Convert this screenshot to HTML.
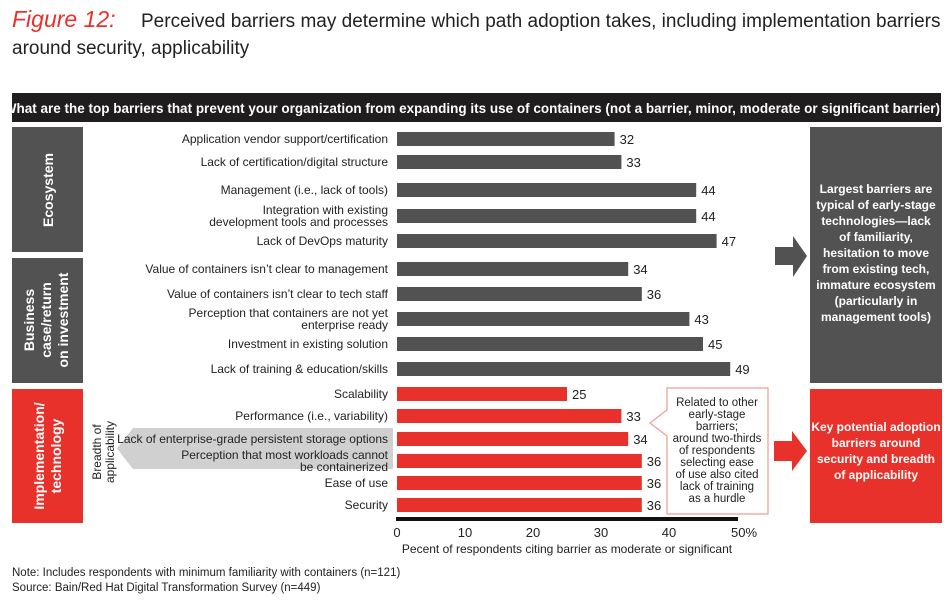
<!DOCTYPE html>
<html><head><meta charset="utf-8"><style>
body{margin:0;background:#fff;font-family:"Liberation Sans",sans-serif;}
svg text{font-family:"Liberation Sans",sans-serif;}
</style></head><body>
<svg id="chart" width="950" height="598" viewBox="0 0 950 598" xmlns="http://www.w3.org/2000/svg">
<text x="12" y="27" font-size="23" fill="#e8312a" font-style="italic" font-family="Liberation Serif,serif">Figure 12:</text>
<text x="141" y="27" font-size="19" fill="#222">Perceived barriers may determine which path adoption takes, including implementation barriers</text>
<text x="12" y="54" font-size="19" fill="#222">around security, applicability</text>
<rect x="12" y="93" width="929" height="29" fill="#1f1d1d"/>
<text x="476" y="113" font-size="13.5" font-weight="bold" fill="#fff" text-anchor="middle">What are the top barriers that prevent your organization from expanding its use of containers (not a barrier, minor, moderate or significant barrier)?</text>
<rect x="12" y="127" width="71" height="125" fill="#525252"/>
<text transform="translate(53,190) rotate(-90)" font-size="14" font-weight="bold" fill="#fff" text-anchor="middle">Ecosystem</text>
<rect x="12" y="258" width="71" height="125" fill="#525252"/>
<g transform="translate(48,320) rotate(-90)" font-size="14" font-weight="bold" fill="#fff" text-anchor="middle">
<text x="0" y="-14">Business</text><text x="0" y="3">case/return</text><text x="0" y="20">on investment</text></g>
<rect x="12" y="389" width="71" height="134" fill="#e8312a"/>
<g transform="translate(48,456) rotate(-90)" font-size="14" font-weight="bold" fill="#fff" text-anchor="middle">
<text x="0" y="-4">Implementation/</text><text x="0" y="13">technology</text></g>
<g transform="translate(103,452) rotate(-90)" font-size="12" fill="#222" text-anchor="middle">
<text x="0" y="-2">Breadth of</text><text x="0" y="11">applicability</text></g>
<polygon points="133,428 393,428 393,469 133,469 117,448.5" fill="#d0d0d0"/>
<g id="bars"></g>
<rect x="810" y="127" width="132" height="256" fill="#525252"/>
<g font-size="12" font-weight="bold" fill="#fff" text-anchor="middle">
<text x="876" y="193">Largest barriers are</text><text x="876" y="209">typical of early-stage</text><text x="876" y="225">technologies—lack</text><text x="876" y="241">of familiarity,</text><text x="876" y="257">hesitation to move</text><text x="876" y="273">from existing tech,</text><text x="876" y="289">immature ecosystem</text><text x="876" y="305">(particularly in</text><text x="876" y="321">management tools)</text></g>
<polygon points="775,247 793,247 793,236 807,256 793,277 793,265 775,265" fill="#525252"/>
<rect x="810" y="389" width="132" height="134" fill="#e8312a"/>
<g font-size="12" font-weight="bold" fill="#fff" text-anchor="middle">
<text x="876" y="431">Key potential adoption</text><text x="876" y="447">barriers around</text><text x="876" y="463">security and breadth</text><text x="876" y="479">of applicability</text></g>
<polygon points="774,441 792,441 792,431 807,451 792,471 792,461 774,461" fill="#e8312a"/>
<polygon points="667,388 768,388 768,514 667,514 667,436 650,423 667,410" fill="#fff" stroke="#f19a95" stroke-width="1.2"/>
<g font-size="11.5" fill="#222" text-anchor="middle">
<text x="717" y="406">Related to other</text><text x="717" y="418">early-stage</text><text x="717" y="430">barriers;</text><text x="717" y="442">around two-thirds</text><text x="717" y="454">of respondents</text><text x="717" y="466">selecting ease</text><text x="717" y="478">of use also cited</text><text x="717" y="490">lack of training</text><text x="717" y="502">as a hurdle</text></g>
<g id="axis"></g>
<text x="567" y="553" font-size="12" fill="#222" text-anchor="middle">Pecent of respondents citing barrier as moderate or significant</text>
<text x="12" y="576" font-size="11.5" fill="#222">Note: Includes respondents with minimum familiarity with containers (n=121)</text>
<text x="12" y="591" font-size="11.5" fill="#222">Source: Bain/Red Hat Digital Transformation Survey (n=449)</text>
</svg>
<script>
const categories = ["Application vendor support/certification","Lack of certification/digital structure","Management (i.e., lack of tools)","Integration with existing|development tools and processes","Lack of DevOps maturity","Value of containers isn’t clear to management","Value of containers isn’t clear to tech staff","Perception that containers are not yet|enterprise ready","Investment in existing solution","Lack of training & education/skills","Scalability","Performance (i.e., variability)","Lack of enterprise-grade persistent storage options","Perception that most workloads cannot|be containerized","Ease of use","Security"];
const values = [32,33,44,44,47,34,36,43,45,49,25,33,34,36,36,36];
const groups = ["eco","eco","eco","eco","eco","biz","biz","biz","biz","biz","imp","imp","imp","imp","imp","imp"];
const tickValues = [0,10,20,30,40,50];
const tickLabels = ["0","10","20","30","40","50%"];
const rowCenters = [139,162,190,216,241,269,294,319,344,369,394,416,439,461,483,505];
const NS="http://www.w3.org/2000/svg";
const x0=397, pxPer=6.8;
function xScale(v){return x0+v*pxPer;}
const g=document.getElementById('bars');
function mk(t,attrs,parent){const e=document.createElementNS(NS,t);for(const k in attrs)e.setAttribute(k,attrs[k]);parent.appendChild(e);return e;}
values.forEach((v,i)=>{
  const cy=rowCenters[i];
  const col=groups[i]==="imp"?"#e8312a":"#525252";
  const r=mk('rect',{x:x0,y:cy-7,width:xScale(v)-x0,height:14,fill:col},g);
  
  
  const vt=mk('text',{x:xScale(v)+5,y:cy+5,'font-size':13,fill:'#222'},g);
  vt.textContent=v;
  
  
  const lines=categories[i].split('|');
  const ct=mk('text',{x:388,'font-size':12,fill:'#222','text-anchor':'end'},g);
  
  
  lines.forEach((ln,j)=>{
    const ts=mk('tspan',{x:388,y:cy+4+(j-(lines.length-1)/2)*12},ct);
    ts.textContent=ln;
  });
});
const ax=document.getElementById('axis');
const al=mk('rect',{x:xScale(0)-1,y:517,width:xScale(50)-xScale(0)+2,height:4,fill:'#111'},ax);


tickValues.forEach((t,i)=>{
  const tt=mk('text',{x:xScale(t)+(i===5?7:0),y:537,'font-size':13,fill:'#222','text-anchor':'middle'},ax);
  tt.textContent=tickLabels[i];
  
  
});
</script>
</body></html>
